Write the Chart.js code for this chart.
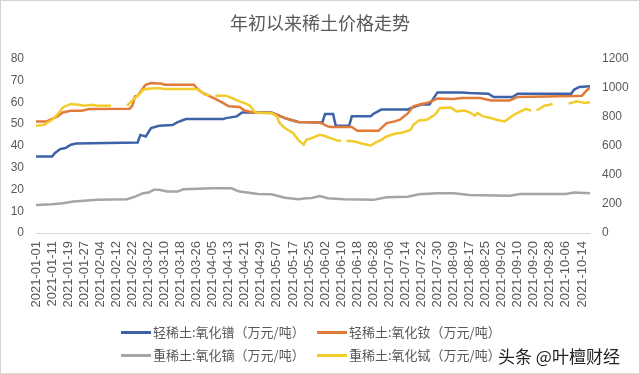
<!DOCTYPE html>
<html>
<head>
<meta charset="utf-8">
<script src="https://cdn.jsdelivr.net/npm/chart.js@4"></script>
<style>
  body { margin: 0; background: #fff; }
  #wrap {
    position: relative; width: 640px; height: 374px;
    box-sizing: border-box; border: 1px solid #d4d4d4; background: #fff;
  }
  #rareEarth { position: absolute; left: -1px; top: -1px; }
  #legend {
    position: absolute; left: 120px; top: 321px;
    display: grid; grid-template-columns: 196px 196px; row-gap: 4px;
    font-family: "Noto Sans CJK SC", sans-serif; font-size: 13px; color: #595959;
  }
  #legend .item { height: 19px; line-height: 19px; white-space: nowrap; }
  #legend .swatch {
    display: inline-block; width: 30px; height: 2.5px;
    vertical-align: middle; margin-right: 2px; position: relative; top: -1px;
  }
  #mark {
    position: absolute; left: 497px; top: 342px;
    font-family: "Noto Sans CJK SC", sans-serif; font-size: 17px; color: #222;
    text-shadow: 0 0 2px #fff, 0 0 2px #fff;
  }
</style>
</head>
<body>
<div id="wrap">
  <canvas id="rareEarth" width="640" height="374"></canvas>
  <div id="legend"></div>
  <div id="mark">头条 @叶檀财经</div>
</div>
<script>
// weekday index since 2021-01-01, one label every 6 days
const dateTicks = [
  "2021-01-01", "2021-01-11", "2021-01-19", "2021-01-27", "2021-02-04",
  "2021-02-12", "2021-02-22", "2021-03-02", "2021-03-10", "2021-03-18",
  "2021-03-26", "2021-04-05", "2021-04-13", "2021-04-21", "2021-04-29",
  "2021-05-07", "2021-05-17", "2021-05-25", "2021-06-02", "2021-06-10",
  "2021-06-18", "2021-06-28", "2021-07-06", "2021-07-14", "2021-07-22",
  "2021-07-30", "2021-08-09", "2021-08-17", "2021-08-25", "2021-09-02",
  "2021-09-10", "2021-09-20", "2021-09-28", "2021-10-06", "2021-10-14"
];
const tickEvery = 6;
const lastDay = 207;

// [day index, price] - left axis
const praseodymium = [
  [0, 35.1], [6, 35.1], [7, 36.6], [9, 38.5], [11, 39], [13, 40.5], [15, 41],
  [38, 41.5], [39, 45], [41, 44.3], [43, 48.1], [46, 49.2], [51, 49.5],
  [53, 50.9], [56, 52.3], [70, 52.3], [71, 52.7], [75, 53.5], [77, 55.3],
  [88, 55.3], [93, 52.7], [96, 51.6], [98, 50.9], [107, 50.7], [108, 54.6],
  [111, 54.6], [112, 49.2], [117, 49.2], [118, 53.5], [125, 53.5], [126, 54.6],
  [129, 56.6], [139, 56.6], [140, 57.3], [144, 58.9], [147, 58.9], [150, 64.5],
  [159, 64.5], [162, 64.2], [169, 63.9], [171, 62.4], [178, 62.4], [180, 63.9],
  [200, 63.9], [201, 65.7], [203, 67], [207, 67.3]
];
const neodymium = [
  [0, 51.2], [4, 51.2], [6, 52.3], [8, 53.5], [10, 55.3], [13, 56.1], [17, 56.1],
  [20, 56.9], [35, 57], [36, 58.4], [37, 62.7], [38, 63], [40, 66.5], [41, 68],
  [43, 68.8], [47, 68.5], [48, 68], [59, 68], [60, 66.5], [62, 64.5], [65, 62.7],
  [67, 61.5], [70, 59.6], [72, 58.1], [76, 57.8], [78, 56.2], [81, 55.3],
  [88, 55], [90, 54.3], [93, 52.7], [96, 51.6], [98, 50.9], [106, 50.7],
  [109, 48.9], [110, 48.6], [118, 48.6], [120, 46.9], [128, 46.9], [129, 48.1],
  [131, 50.4], [134, 51.2], [136, 52], [139, 55], [141, 58.1], [144, 59.2],
  [146, 59.6], [149, 61.1], [150, 61.7], [156, 61.5], [159, 61.9], [166, 61.9],
  [170, 60.8], [177, 60.8], [180, 62.4], [201, 62.8], [204, 63], [206, 65.7],
  [207, 66.5]
];

// right axis
const dysprosium = [
  [0, 193], [6, 198], [10, 205], [14, 216], [23, 228], [34, 232], [37, 250],
  [40, 274], [42, 278], [44, 297], [46, 297], [49, 285], [53, 285], [55, 301],
  [66, 308], [73, 308], [76, 285], [83, 269], [88, 267], [93, 243], [98, 232],
  [101, 239], [103, 241], [106, 255], [109, 239], [115, 232], [126, 228],
  [131, 246], [139, 250], [143, 267], [150, 274], [156, 274], [162, 262],
  [177, 257], [181, 269], [198, 269], [201, 278], [207, 274]
];
const terbium = [
  [0, 738], [3, 745], [6, 779], [8, 814], [10, 864], [13, 888], [16, 883],
  [18, 876], [21, 883], [23, 876], [28, 876], [29, null], [34, 876], [35, 894],
  [37, 929], [39, 963], [40, 986], [42, 993], [46, 998], [48, 990], [59, 990],
  [61, 986], [63, 952], [65, 948], [66, null], [67, 945], [71, 945], [74, 922],
  [76, 906], [78, 894], [80, 876], [81, 848], [82, 830], [85, 826], [88, 826],
  [90, 802], [91, 757], [93, 722], [96, 688], [98, 641], [100, 607], [101, 641],
  [103, 653], [106, 676], [108, 667], [110, 653], [113, 634], [114, 634],
  [115, null], [116, 634], [119, 630], [122, 614], [125, 602], [127, 623],
  [129, 641], [131, 664], [134, 683], [137, 692], [140, 710], [141, 745],
  [143, 774], [146, 779], [149, 814], [151, 860], [155, 864], [157, 837],
  [160, 843], [162, 830], [164, 807], [165, 826], [167, 802], [170, 791],
  [172, 779], [175, 768], [176, 779], [178, 807], [181, 837], [183, 853],
  [185, 843], [186, null], [187, 843], [188, 853], [190, 876], [192, 883],
  [193, 890], [194, null], [199, 890], [202, 906], [204, 899], [205, 894],
  [207, 899]
];

const seriesNames = [
  "轻稀土:氧化镨（万元/吨）",
  "轻稀土:氧化钕（万元/吨）",
  "重稀土:氧化镝（万元/吨）",
  "重稀土:氧化铽（万元/吨）"
];
const seriesColors = ["#3e62a8", "#e07b39", "#a5a5a5", "#f2cc2b"];

const toPoints = arr => arr.map(p => ({ x: p[0], y: p[1] }));

function makeSet(i, data, axis) {
  return {
    label: seriesNames[i],
    data: toPoints(data),
    yAxisID: axis,
    borderColor: seriesColors[i],
    backgroundColor: seriesColors[i],
    borderWidth: 2.5,
    pointRadius: 0,
    tension: 0,
    order: 4 - i
  };
}

const tickFont = { family: "'Liberation Sans', Arial, sans-serif", size: 12 };

const chart = new Chart(document.getElementById("rareEarth"), {
  type: "line",
  data: {
    datasets: [
      makeSet(0, praseodymium, "yL"),
      makeSet(1, neodymium, "yL"),
      makeSet(2, dysprosium, "yR"),
      makeSet(3, terbium, "yR")
    ]
  },
  options: {
    responsive: false,
    animation: false,
    layout: { padding: 0 },
    plugins: {
      legend: { display: false },
      tooltip: { enabled: false },
      title: {
        display: true,
        text: "年初以来稀土价格走势",
        color: "#595959",
        font: { family: "'Noto Sans CJK SC', sans-serif", size: 18, weight: "normal" },
        padding: { top: 12, bottom: 25 }
      }
    },
    scales: {
      x: {
        type: "linear",
        min: 0,
        max: lastDay,
        grid: { display: false, drawTicks: false },
        border: { display: true, color: "#d9d9d9", width: 1 },
        afterBuildTicks: scale => {
          scale.ticks = dateTicks.map((d, i) => ({ value: i * tickEvery }));
        },
        afterFit: scale => { scale.height = 141; },
        ticks: {
          autoSkip: false,
          maxRotation: 90,
          minRotation: 90,
          padding: 8,
          color: "#595959",
          font: { family: tickFont.family, size: 13 },
          callback: v => dateTicks[Math.round(v / tickEvery)] || ""
        }
      },
      yL: {
        position: "left",
        min: 0,
        max: 80,
        grid: { display: false, drawTicks: false },
        border: { display: false },
        afterFit: scale => { scale.width = 36; },
        ticks: { stepSize: 10, padding: 12, color: "#595959", font: tickFont }
      },
      yR: {
        position: "right",
        min: 0,
        max: 1200,
        grid: { display: false, drawTicks: false },
        border: { display: false },
        afterFit: scale => { scale.width = 50; },
        ticks: { stepSize: 200, padding: 12, color: "#595959", font: tickFont, callback: v => String(v) }
      }
    }
  }
});

// two-column legend like the original
const legendBox = document.getElementById("legend");
chart.data.datasets.forEach(ds => {
  const item = document.createElement("div");
  item.className = "item";
  item.innerHTML = '<span class="swatch" style="background:' + ds.borderColor + '"></span>' + ds.label;
  legendBox.appendChild(item);
});
</script>
</body>
</html>
